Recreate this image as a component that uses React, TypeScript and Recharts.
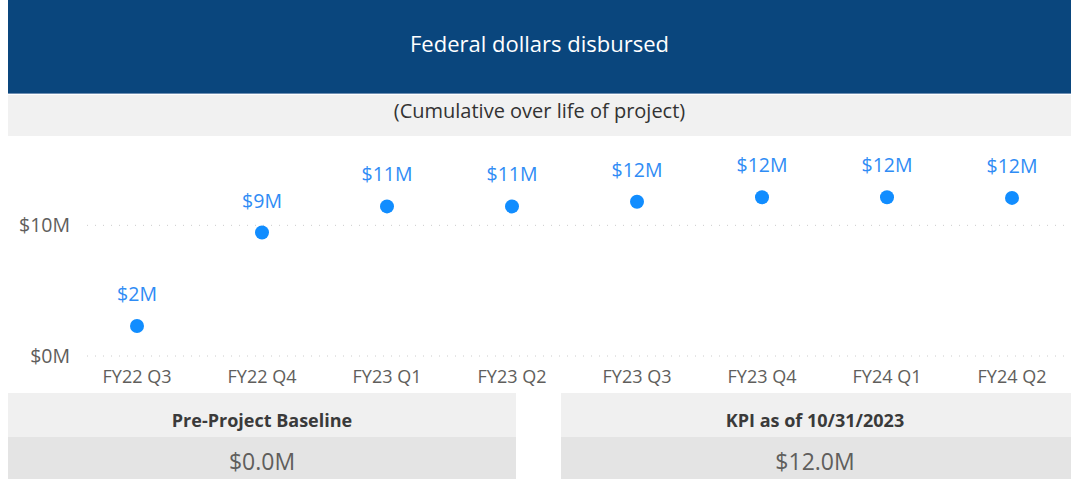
import { LineChart, Line, XAxis, YAxis, CartesianGrid, LabelList } from "recharts"

const quarters = ["FY22 Q3", "FY22 Q4", "FY23 Q1", "FY23 Q2", "FY23 Q3", "FY23 Q4", "FY24 Q1", "FY24 Q2"]
const disbursedM = [2.3, 9.45, 11.45, 11.45, 11.8, 12.15, 12.15, 12.1]
const yTicks = [0, 10]

const title = "Federal dollars disbursed"
const subtitle = "(Cumulative over life of project)"
const baselineLabel = "Pre-Project Baseline"
const baselineValue = "$0.0M"
const kpiLabel = "KPI as of 10/31/2023"
const kpiValue = "$12.0M"

const FONT = "'Open Sans', 'Noto Sans', sans-serif"
const AXIS_GRAY = "#605e5c"

const fmt = (v: number) => `$${Math.round(v)}M`

export default function App() {
  const data = quarters.map((q, i) => ({ quarter: q, value: disbursedM[i] }))

  const box = (label: string, value: string, left: number, width: number) => (
    <div style={{ position: "absolute", left, top: 393, width, height: 86 }}>
      <div
        style={{
          height: 44,
          background: "#f0f0f0",
          display: "flex",
          alignItems: "center",
          justifyContent: "center",
          fontWeight: 700,
          fontSize: 18,
          color: "#3a3a3a",
          paddingTop: 9,
          boxSizing: "border-box",
        }}
      >
        {label}
      </div>
      <div
        style={{
          height: 42,
          background: "#e4e4e4",
          display: "flex",
          alignItems: "center",
          justifyContent: "center",
          fontSize: 23,
          color: AXIS_GRAY,
          paddingTop: 5,
          boxSizing: "border-box",
        }}
      >
        {value}
      </div>
    </div>
  )

  return (
    <div
      style={{
        position: "absolute",
        left: 0,
        top: 0,
        width: 1071,
        height: 479,
        overflow: "hidden",
        background: "#fff",
        fontFamily: FONT,
      }}
    >
      {/* header */}
      <div
        style={{
          position: "absolute",
          left: 8,
          top: 0,
          width: 1063,
          height: 94,
          background: "#0a467d",
          borderBottom: "1px solid #6f8fb3",
          color: "#fff",
          fontSize: 22,
          display: "flex",
          alignItems: "center",
          justifyContent: "center",
          paddingBottom: 8,
          boxSizing: "border-box",
        }}
      >
        {title}
      </div>
      <div
        style={{
          position: "absolute",
          left: 8,
          top: 95,
          width: 1063,
          height: 41,
          background: "#f1f1f1",
          color: "#333",
          fontSize: 20,
          display: "flex",
          alignItems: "center",
          justifyContent: "center",
          paddingBottom: 10,
          boxSizing: "border-box",
        }}
      >
        {subtitle}
      </div>

      <div style={{ position: "absolute", left: 0, top: 136 }}>
        <LineChart width={1071} height={257} data={data} margin={{ top: 24, right: 0, bottom: 0, left: 0 }}>
          <CartesianGrid
            vertical={false}
            horizontalValues={yTicks}
            stroke="#cccccc"
            strokeDasharray="1 7"
          />
          <XAxis
            dataKey="quarter"
            axisLine={false}
            tickLine={false}
            tickSize={0}
            tickMargin={14}
            height={37}
            padding={{ left: 50, right: 59 }}
            tick={{ fill: AXIS_GRAY, fontSize: 18, fontFamily: FONT }}
            interval={0}
          />
          <YAxis
            domain={[0, 15]}
            ticks={yTicks}
            tickFormatter={fmt}
            axisLine={false}
            tickLine={false}
            tickSize={0}
            tickMargin={17}
            width={87}
            tick={{ fill: AXIS_GRAY, fontSize: 19.5, fontFamily: FONT }}
          />
          <Line
            dataKey="value"
            stroke="none"
            isAnimationActive={false}
            dot={{ r: 7, fill: "#118dff", stroke: "none" }}
            activeDot={false}
          >
            <LabelList
              dataKey="value"
              position="top"
              offset={25}
              formatter={(v: any) => fmt(Number(v))}
              style={{ fill: "#2f8cf5", fontSize: 19.5, fontFamily: FONT }}
            />
          </Line>
        </LineChart>
      </div>

      {box(baselineLabel, baselineValue, 8, 508)}
      {box(kpiLabel, kpiValue, 561, 508)}
      <div style={{ position: "absolute", left: 1069, top: 393, width: 2, height: 44, background: "#f0f0f0" }} />
      <div style={{ position: "absolute", left: 1069, top: 437, width: 2, height: 42, background: "#e4e4e4" }} />
    </div>
  )
}
